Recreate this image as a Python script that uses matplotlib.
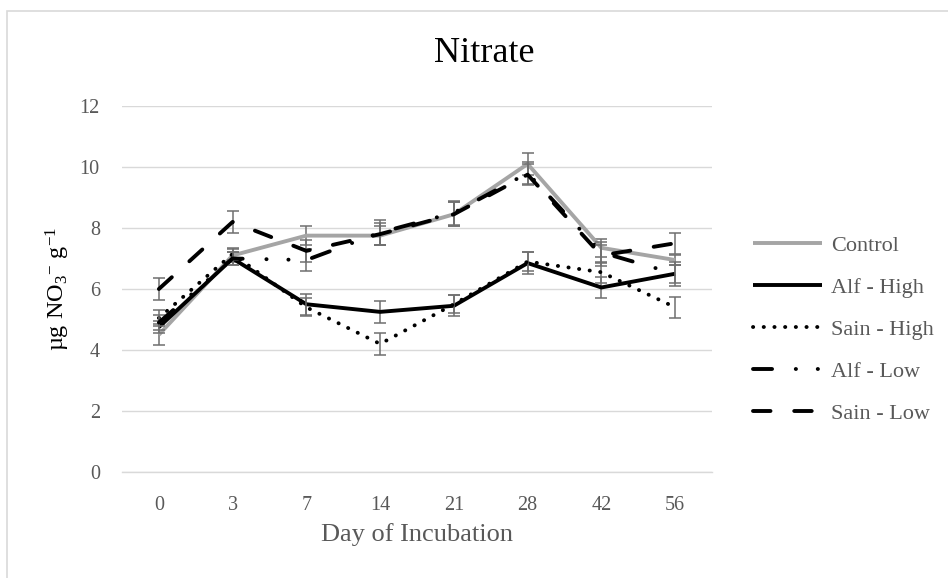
import matplotlib
matplotlib.use("Agg")
import matplotlib.pyplot as plt
from matplotlib.patches import Rectangle

plt.rcParams['font.family'] = ['Liberation Serif', 'DejaVu Serif']
plt.rcParams['mathtext.fontset'] = 'custom'
plt.rcParams['mathtext.rm'] = 'Liberation Serif'
plt.rcParams['mathtext.it'] = 'Liberation Serif:italic'

days = ['0', '3', '7', '14', '21', '28', '42', '56']
control = [4.5, 7.1, 7.75, 7.75, 8.45, 10.1, 7.35, 6.95]
control_err = [0.35, 0.2, 0.3, 0.3, 0.4, 0.35, 0.3, 0.15]
alf_high = [4.75, 7.0, 5.5, 5.25, 5.45, 6.85, 6.05, 6.5]
alf_high_err = [0.2, 0.2, 0.35, 0.35, 0.35, 0.35, 0.35, 0.4]
sain_high = [5.05, 7.15, 5.4, 4.2, 5.5, 6.9, 6.55, 5.4]
sain_high_err = [0.25, 0.2, 0.3, 0.35, 0.3, 0.3, 0.35, 0.35]
alf_low = [4.9, 7.0, 6.95, 7.85, 8.5, 9.8, 7.2, 6.5]
alf_low_err = [0.25, 0.2, 0.35, 0.4, 0.4, 0.35, 0.35, 0.3]
sain_low = [6.0, 8.2, 7.25, 7.8, 8.45, 9.75, 7.1, 7.5]
sain_low_err = [0.35, 0.35, 0.35, 0.35, 0.4, 0.35, 0.35, 0.35]
series_names = ['Control', 'Alf - High', 'Sain - High', 'Alf - Low', 'Sain - Low']
y_ticks = [0, 2, 4, 6, 8, 10, 12]

W, H = 948, 578
fig = plt.figure(figsize=(W / 100, H / 100), dpi=100)
ax = fig.add_axes([122 / W, 1 - 472 / H, 590 / W, 366 / H])

x = list(range(len(days)))
LW = 2.8
styles = [
    dict(color='#a5a5a5', linestyle='-', solid_capstyle='butt'),
    dict(color='black', linestyle='-', solid_capstyle='butt'),
    dict(color='black', linestyle=(0, (0.05, 2.7)), dash_capstyle='round'),
    dict(color='black', linestyle=(0, (4.9, 6.1, 0.05, 5.6, 0.05, 6.1)), dash_capstyle='round'),
    dict(color='black', linestyle=(0, (4.5, 6.1)), dash_capstyle='round'),
]
data = [(control, control_err), (alf_high, alf_high_err), (sain_high, sain_high_err),
        (alf_low, alf_low_err), (sain_low, sain_low_err)]

handles = []
for i, ((vals, errs), st, name) in enumerate(zip(data, styles, series_names)):
    ax.errorbar(x, vals, yerr=errs, fmt='none', ecolor='#6f6f6f', elinewidth=1.1,
                capsize=4.3, capthick=1.1, zorder=3 + i * 0.1)
    ln, = ax.plot(x, vals, lw=LW, label=name, zorder=3.05 + i * 0.1, **st)
    handles.append(ln)

ax.set_xlim(-0.5, len(days) - 0.5)
ax.set_ylim(0, 12)
ax.set_yticks(y_ticks)
ax.set_xticks(x)
ax.set_xticklabels(days)
ax.grid(axis='y', color='#d9d9d9', lw=1.0)
ax.set_axisbelow(True)
for s in ['top', 'right', 'left']:
    ax.spines[s].set_visible(False)
ax.spines['bottom'].set_color('#d9d9d9')
ax.spines['bottom'].set_linewidth(1.0)
ax.tick_params(axis='both', length=0, labelsize=14.5, labelcolor='#595959')
ax.tick_params(axis='y', pad=16)
ax.tick_params(axis='x', pad=17)

fig.text(484.5 / W, 1 - 53 / H, 'Nitrate', ha='center', va='center', fontsize=26, color='black')
fig.text(417 / W, 1 - 535 / H, 'Day of Incubation', ha='center', va='center',
         fontsize=19, color='#595959')
fig.text(58 / W, 1 - 289 / H, r'µg NO$_3$$^{-}$ g$^{-1}$', ha='center', va='center',
         rotation=90, fontsize=17.5, color='black')

fig.legend(handles=handles, loc='center left', bbox_to_anchor=(753 / W, 1 - 329.5 / H),
           frameon=False, fontsize=16, handlelength=3.1, handletextpad=0.4,
           labelspacing=0.97, borderpad=0, borderaxespad=0, labelcolor='#595959')

fig.add_artist(Rectangle((7 / W, -0.5), 2, 1.5 - 11 / H, transform=fig.transFigure,
                         fill=False, edgecolor='#d9d9d9', lw=1.2))

fig.savefig('out.png', dpi=100)
